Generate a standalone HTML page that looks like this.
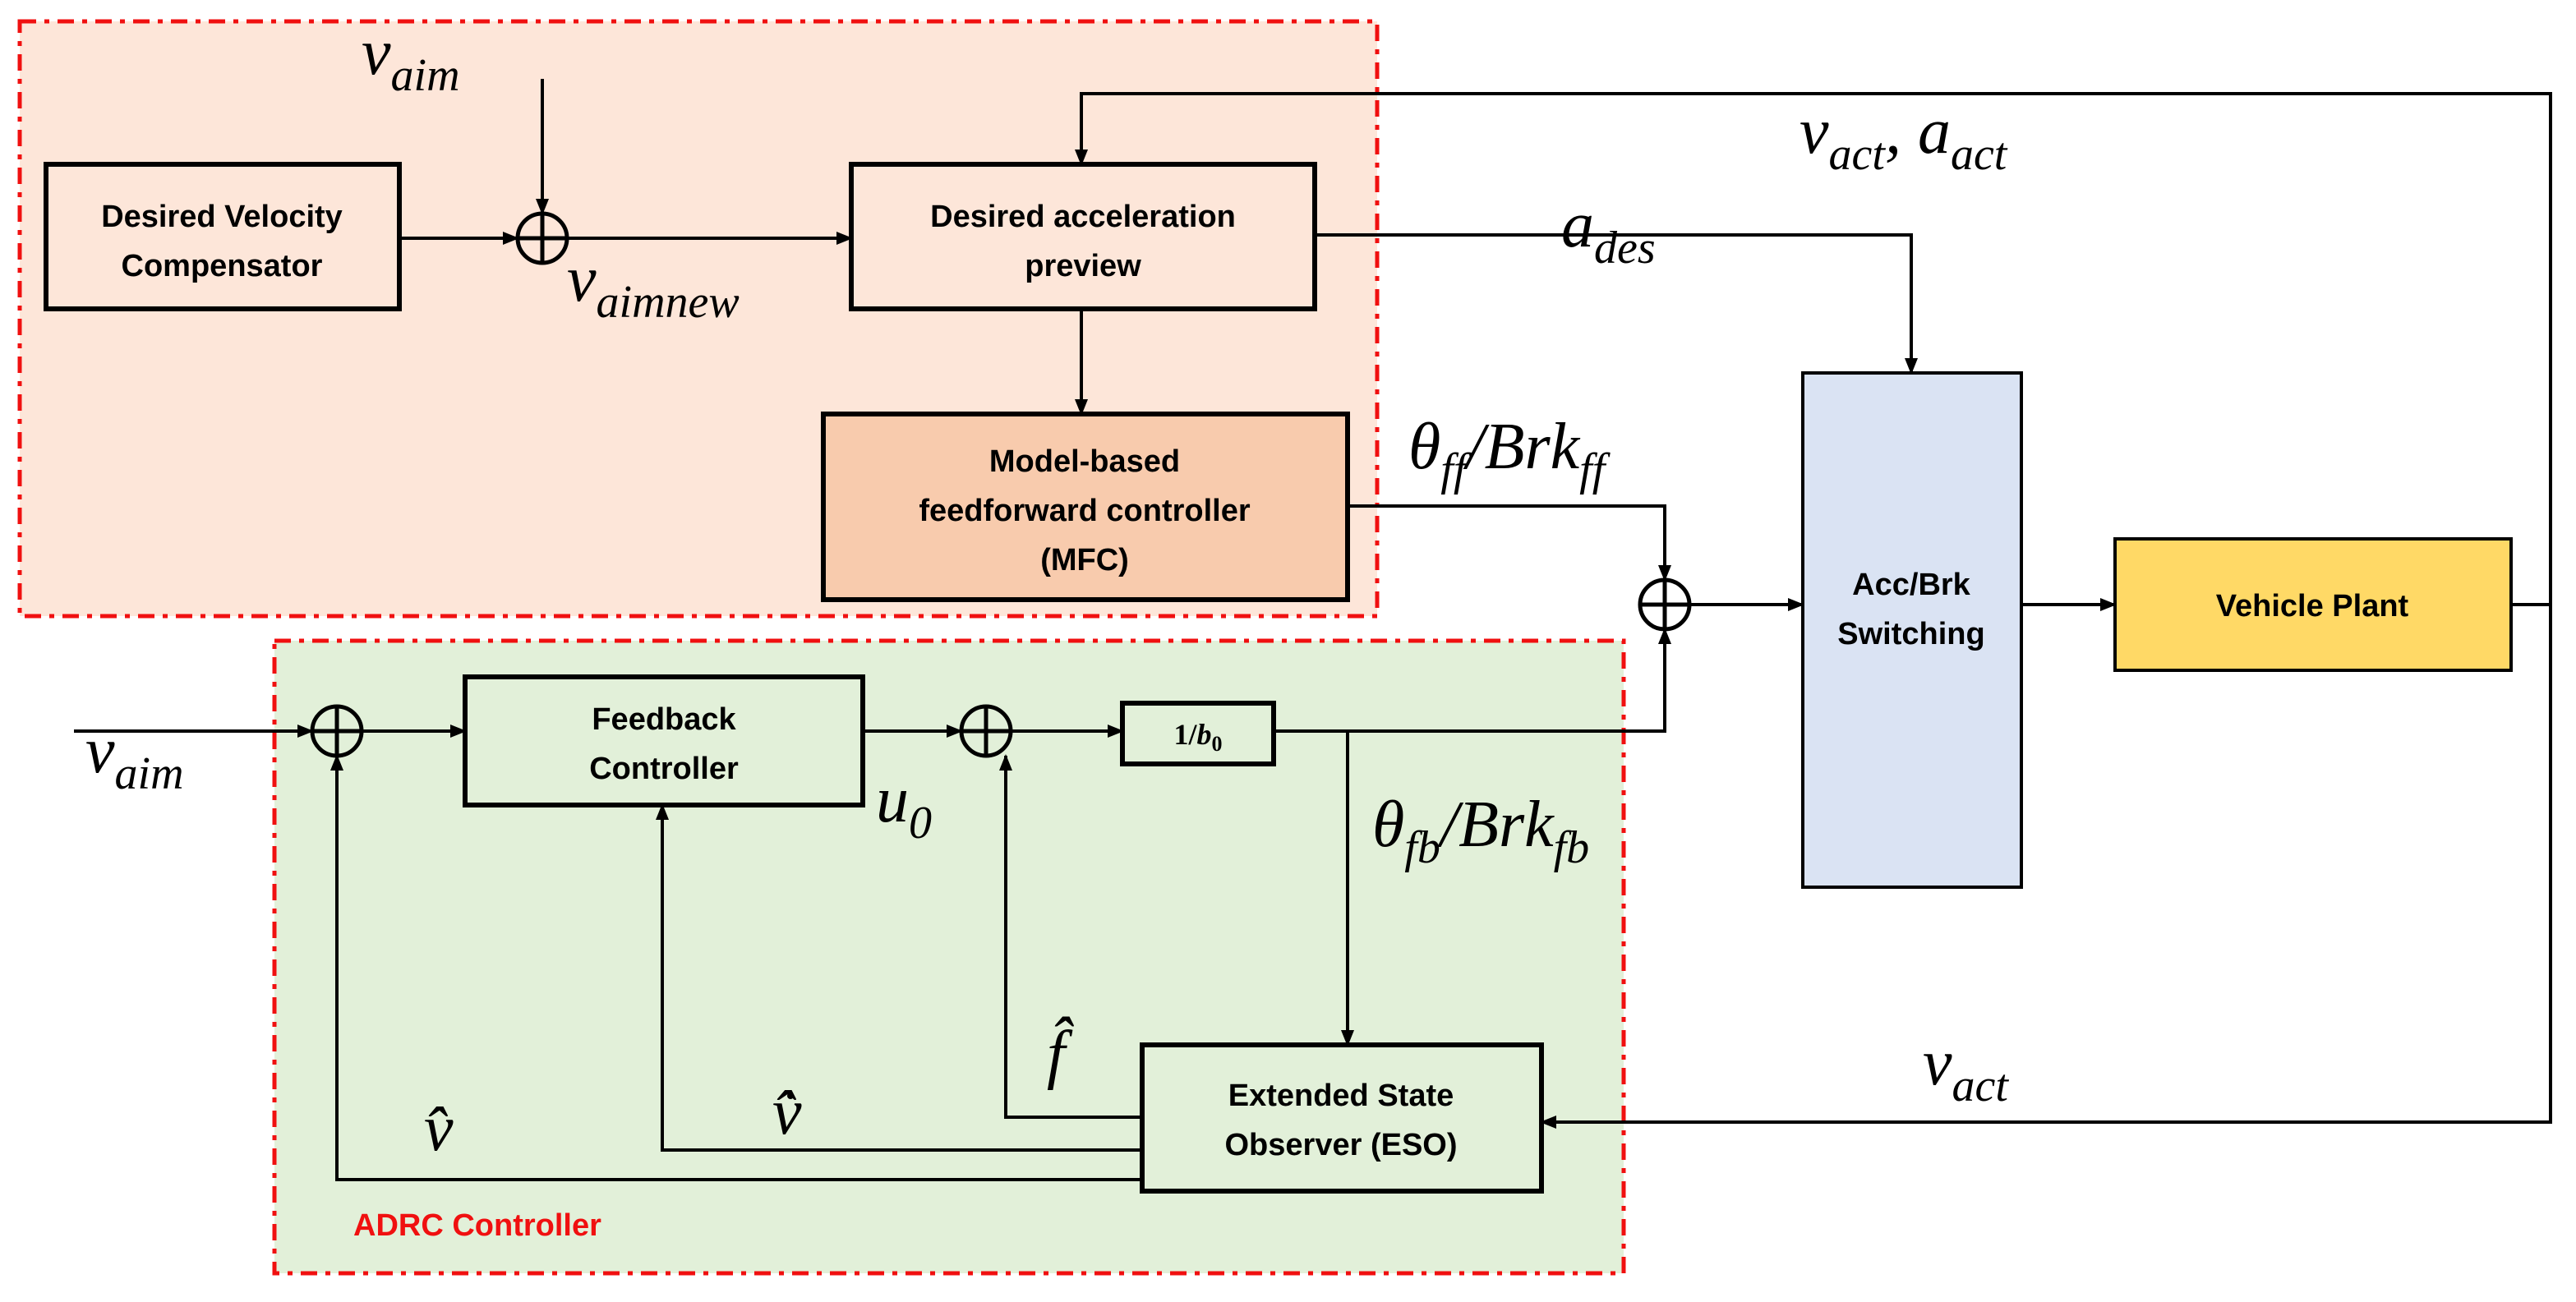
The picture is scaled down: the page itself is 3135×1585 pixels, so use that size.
<!DOCTYPE html>
<html><head><meta charset="utf-8"><style>
html,body{margin:0;padding:0;background:#fff;overflow:hidden;width:3135px;height:1585px;}
svg{display:block;}
.b{font-family:"Liberation Sans Narrow","Liberation Sans",sans-serif;font-weight:bold;font-size:19px;fill:#000;}
.m{font-family:"Liberation Serif",serif;font-style:italic;font-size:40px;fill:#000;}
.s{font-size:28px;}
</style></head><body>
<svg width="3135" height="1585" viewBox="0 0 1567.5 792.5" xmlns="http://www.w3.org/2000/svg">
<defs>
<marker id="a" markerWidth="10" markerHeight="8" refX="9" refY="4" orient="auto" markerUnits="userSpaceOnUse">
<path d="M0,0 L10,4 L0,8 Z" fill="#000"/></marker>
</defs>
<rect x="12" y="13" width="826" height="362" fill="#fde6d9" stroke="#f01010" stroke-width="2.5" stroke-dasharray="10,5,3,5"/>
<rect x="167" y="390" width="821" height="385" fill="#e2f0d9" stroke="#f01010" stroke-width="2.5" stroke-dasharray="10,5,3,5"/>
<g stroke="#000" stroke-width="3">
<rect x="28" y="100" width="215" height="88" fill="none"/>
<rect x="518" y="100" width="282" height="88" fill="none"/>
<rect x="501" y="252" width="319" height="113" fill="#f8cbad"/>
<rect x="1097" y="227" width="133" height="313" fill="#dae3f3" stroke-width="2"/>
<rect x="1287" y="328" width="241" height="80" fill="#ffd966" stroke-width="2"/>
<rect x="283" y="412" width="242" height="78" fill="none"/>
<rect x="683" y="428" width="92" height="37" fill="none"/>
<rect x="695" y="636" width="243" height="89" fill="none"/>
</g>
<g stroke="#000" stroke-width="2.5" fill="none">
<circle cx="330" cy="145" r="15"/><path d="M315,145H345M330,130V160"/>
<circle cx="1013" cy="368" r="15"/><path d="M998,368H1028M1013,353V383"/>
<circle cx="205" cy="445" r="15"/><path d="M190,445H220M205,430V460"/>
<circle cx="600" cy="445" r="15"/><path d="M585,445H615M600,430V460"/>
</g>
<g stroke="#000" stroke-width="2" fill="none" marker-end="url(#a)">
<path d="M330,48V130"/>
<path d="M243,145H315"/>
<path d="M345,145H518"/>
<path d="M658,188V252"/>
<path d="M1528,368H1552V57H658V100"/>
<path d="M800,143H1163V227"/>
<path d="M820,308H1013V353"/>
<path d="M1028,368H1097"/>
<path d="M1230,368H1287"/>
<path d="M45,445H190"/>
<path d="M220,445H283"/>
<path d="M525,445H585"/>
<path d="M615,445H683"/>
<path d="M775,445H1013V383"/>
<path d="M820,445V636"/>
<path d="M1552,368V683H938"/>
<path d="M695,680H612V460"/>
<path d="M695,700H403V490"/>
<path d="M695,718H205V460"/>
</g>
<g class="b" text-anchor="middle">
<text x="135" y="138">Desired Velocity</text><text x="135" y="168">Compensator</text>
<text x="659" y="138">Desired acceleration</text><text x="659" y="168">preview</text>
<text x="660" y="287">Model-based</text><text x="660" y="317">feedforward controller</text><text x="660" y="347">(MFC)</text>
<text x="1163" y="362">Acc/Brk</text><text x="1163" y="392">Switching</text>
<text x="1407" y="375">Vehicle Plant</text>
<text x="404" y="444">Feedback</text><text x="404" y="474">Controller</text>
<text x="816" y="673">Extended State</text><text x="816" y="703">Observer (ESO)</text>
</g>
<text x="729" y="453" text-anchor="middle" style="font-family:'Liberation Serif',serif;font-weight:bold;font-size:18px">1/<tspan font-style="italic">b</tspan><tspan font-size="13" dy="4">0</tspan></text>
<text x="215" y="752" style="font-family:'Liberation Sans Narrow','Liberation Sans',sans-serif;font-weight:bold;font-size:19px;fill:#f01010">ADRC Controller</text>
<g class="m">
<text x="220" y="45">v<tspan class="s" dy="10">aim</tspan></text>
<text x="345" y="183">v<tspan class="s" dy="10">aimnew</tspan></text>
<text x="1095" y="93">v<tspan class="s" dy="10">act</tspan><tspan dy="-10">, a</tspan><tspan class="s" dy="10">act</tspan></text>
<text x="950" y="150">a<tspan class="s" dy="10">des</tspan></text>
<text x="857" y="285">θ<tspan class="s" dy="10">ff</tspan><tspan dy="-10">/Brk</tspan><tspan class="s" dy="10">ff</tspan></text>
<text x="52" y="470">v<tspan class="s" dy="10">aim</tspan></text>
<text x="533" y="500">u<tspan class="s" dy="10">0</tspan></text>
<text x="835" y="515">θ<tspan class="s" dy="10">fb</tspan><tspan dy="-10">/Brk</tspan><tspan class="s" dy="10">fb</tspan></text>
<text x="1170" y="660">v<tspan class="s" dy="10">act</tspan></text>
<text x="637" y="655">f̂</text>
<text x="470" y="690">v̂</text>
<text x="258" y="700">v̂</text>
</g>
<circle cx="481" cy="667" r="2" fill="#000"/>
</svg>
</body></html>
